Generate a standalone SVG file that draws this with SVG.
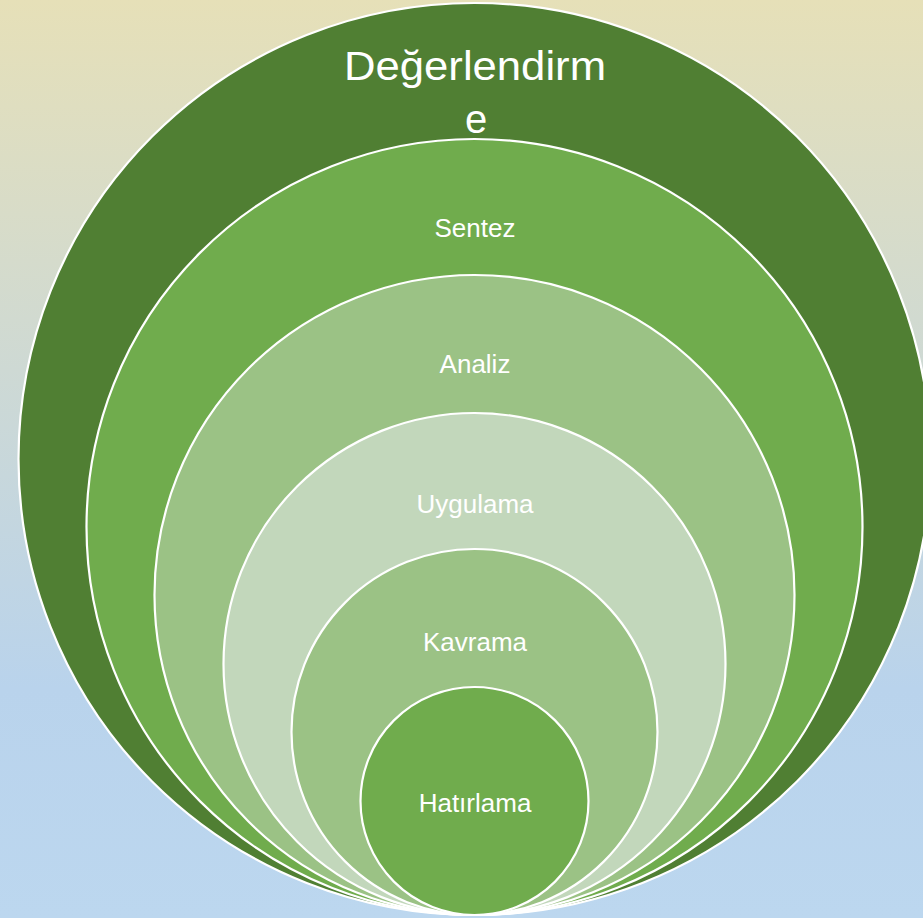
<svg xmlns="http://www.w3.org/2000/svg" width="923" height="918" viewBox="0 0 923 918">
  <defs>
    <linearGradient id="bg" x1="0" y1="0" x2="0" y2="1">
      <stop offset="0" stop-color="#E6E0B8"/>
      <stop offset="0.75" stop-color="#B9D3EC"/>
      <stop offset="1" stop-color="#BCD7EF"/>
    </linearGradient>
  </defs>
  <style>
    .ring { stroke: #FFFFFF; stroke-width: 2.2; }
    .lbl { font-family: "Liberation Sans", Arial, sans-serif; fill: #FFFFFF; text-anchor: middle; font-size: 26px; }
    .big { font-size: 40px; }
  </style>
  <rect x="0" y="0" width="923" height="918" fill="url(#bg)"/>
  <g id="degerlendirme">
    <circle class="ring" cx="474.5" cy="459" r="456" fill="#507F33"/>
    <text class="lbl big" x="475" y="80" textLength="262" lengthAdjust="spacingAndGlyphs">Değerlendirm</text>
    <text class="lbl big" x="476" y="133">e</text>
  </g>
  <g id="sentez">
    <circle class="ring" cx="474.5" cy="527" r="388" fill="#70AC4D"/>
    <text class="lbl" x="475" y="237">Sentez</text>
  </g>
  <g id="analiz">
    <circle class="ring" cx="474.5" cy="595" r="320" fill="#9BC285"/>
    <text class="lbl" x="475" y="373">Analiz</text>
  </g>
  <g id="uygulama">
    <circle class="ring" cx="474.5" cy="664" r="251" fill="#C2D7BB"/>
    <text class="lbl" x="475" y="513">Uygulama</text>
  </g>
  <g id="kavrama">
    <circle class="ring" cx="474.5" cy="732" r="183" fill="#9BC285"/>
    <text class="lbl" x="475" y="651">Kavrama</text>
  </g>
  <g id="hatirlama">
    <circle class="ring" cx="474.5" cy="801" r="114" fill="#70AC4D"/>
    <text class="lbl" x="475" y="812">Hatırlama</text>
  </g>
  <g id="connectors"/>
</svg>
